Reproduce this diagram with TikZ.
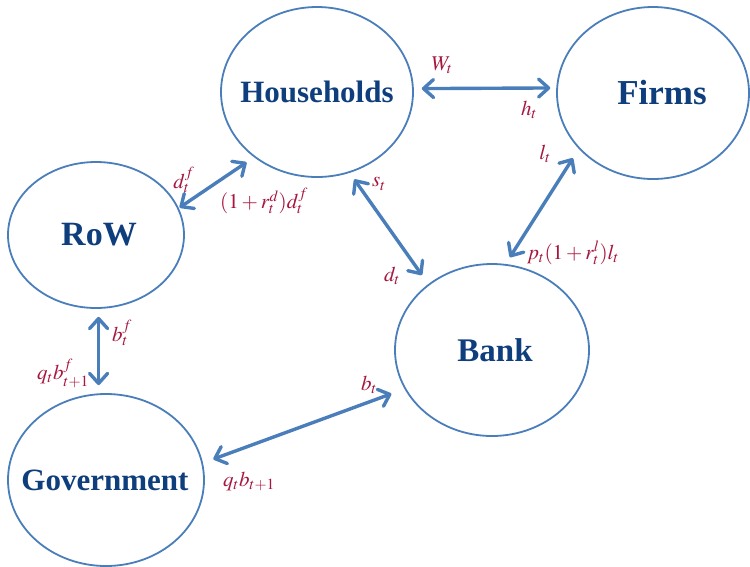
\documentclass[tikz,border=0pt]{standalone}
\usepackage{mathptmx}
\usepackage{fontspec}
\setmainfont{Liberation Serif}
\usetikzlibrary{arrows.meta,shapes.geometric}
\definecolor{linkblue}{RGB}{74,126,187}
\definecolor{namecol}{RGB}{14,62,124}
\definecolor{flowred}{RGB}{166,22,62}
\begin{document}
\begin{tikzpicture}[x=1pt,y=-1pt,line join=round,line cap=round,
		>={Straight Barb[length=10pt,width=18pt,round]},
		sector/.style={ellipse,draw=linkblue,line width=1.8pt,inner sep=0pt},
		every label/.style={font=\fontsize{31}{36}\selectfont\bfseries,text=namecol,inner sep=0pt},
		link/.style={<->,draw=linkblue,line width=3.4pt},
		flow/.style={font=\fontsize{21}{25}\selectfont,text=flowred,inner sep=0pt}]
	\useasboundingbox (0,0) rectangle (750,566);
	% === Các khu vực ===
	\node[sector,minimum width=192pt,minimum height=170pt,label=center:Households] (hh) at (317,92) {};
	\node[sector,minimum width=192pt,minimum height=172pt,label={[xshift=9pt,font=\fontsize{35}{40}\selectfont\bfseries]center:Firms}] (firms) at (653,93) {};
	\node[sector,minimum width=176pt,minimum height=146pt,label={[xshift=3pt,font=\fontsize{34}{40}\selectfont\bfseries]center:RoW}] (row) at (96,235) {};
	\node[sector,minimum width=194pt,minimum height=172pt,label={[xshift=3pt,font=\fontsize{33}{40}\selectfont\bfseries]center:Bank}] (bank) at (492,350) {};
	\node[sector,minimum width=196pt,minimum height=172pt,label={[xshift=-1pt]center:Government}] (gov) at (106,480) {};
	% === Các dòng tiền ===
	\draw[link,shorten <=8pt,shorten >=6pt] (hh.2) -- (firms.177);
	\draw[link,shorten <=1pt,shorten >=9pt] (row.18) -- (hh.226);
	\draw[link,shorten <=8pt,shorten >=11pt] (hh.292) -- (bank.134);
	\draw[link,shorten <=8pt,shorten >=11pt] (bank.81) -- (firms.217);
	\draw[link,shorten <=8pt,shorten >=8pt] (row.272) -- (row.272 |- gov.north);
	\draw[link,shorten <=11pt,shorten >=14pt] (gov.10) -- (bank.204);
	% === Nhãn ===
	\node[flow] (wt) at (442,65) {$W_t$};
	\node[flow] (ht) at (529,110) {$h_t$};
	\node[flow] (dft) at (184,180) {$d_t^f$};
	\node[flow] (rdt) at (264,201) {$(1+r_t^d)d_t^f$};
	\node[flow] (st) at (379,184) {$s_t$};
	\node[flow] (dt) at (392,276) {$d_t$};
	\node[flow] (lt) at (545,154) {$l_t$};
	\node[flow] (rlt) at (573,253) {$p_t(1+r_t^l)l_t$};
	\node[flow] (bft) at (122,333) {$b_t^f$};
	\node[flow] (qbf) at (63,373) {$q_tb_{t+1}^f$};
	\node[flow] (bt) at (369,385) {$b_t$};
	\node[flow] (qb) at (249,481) {$q_tb_{t+1}$};
\end{tikzpicture}
\end{document}
